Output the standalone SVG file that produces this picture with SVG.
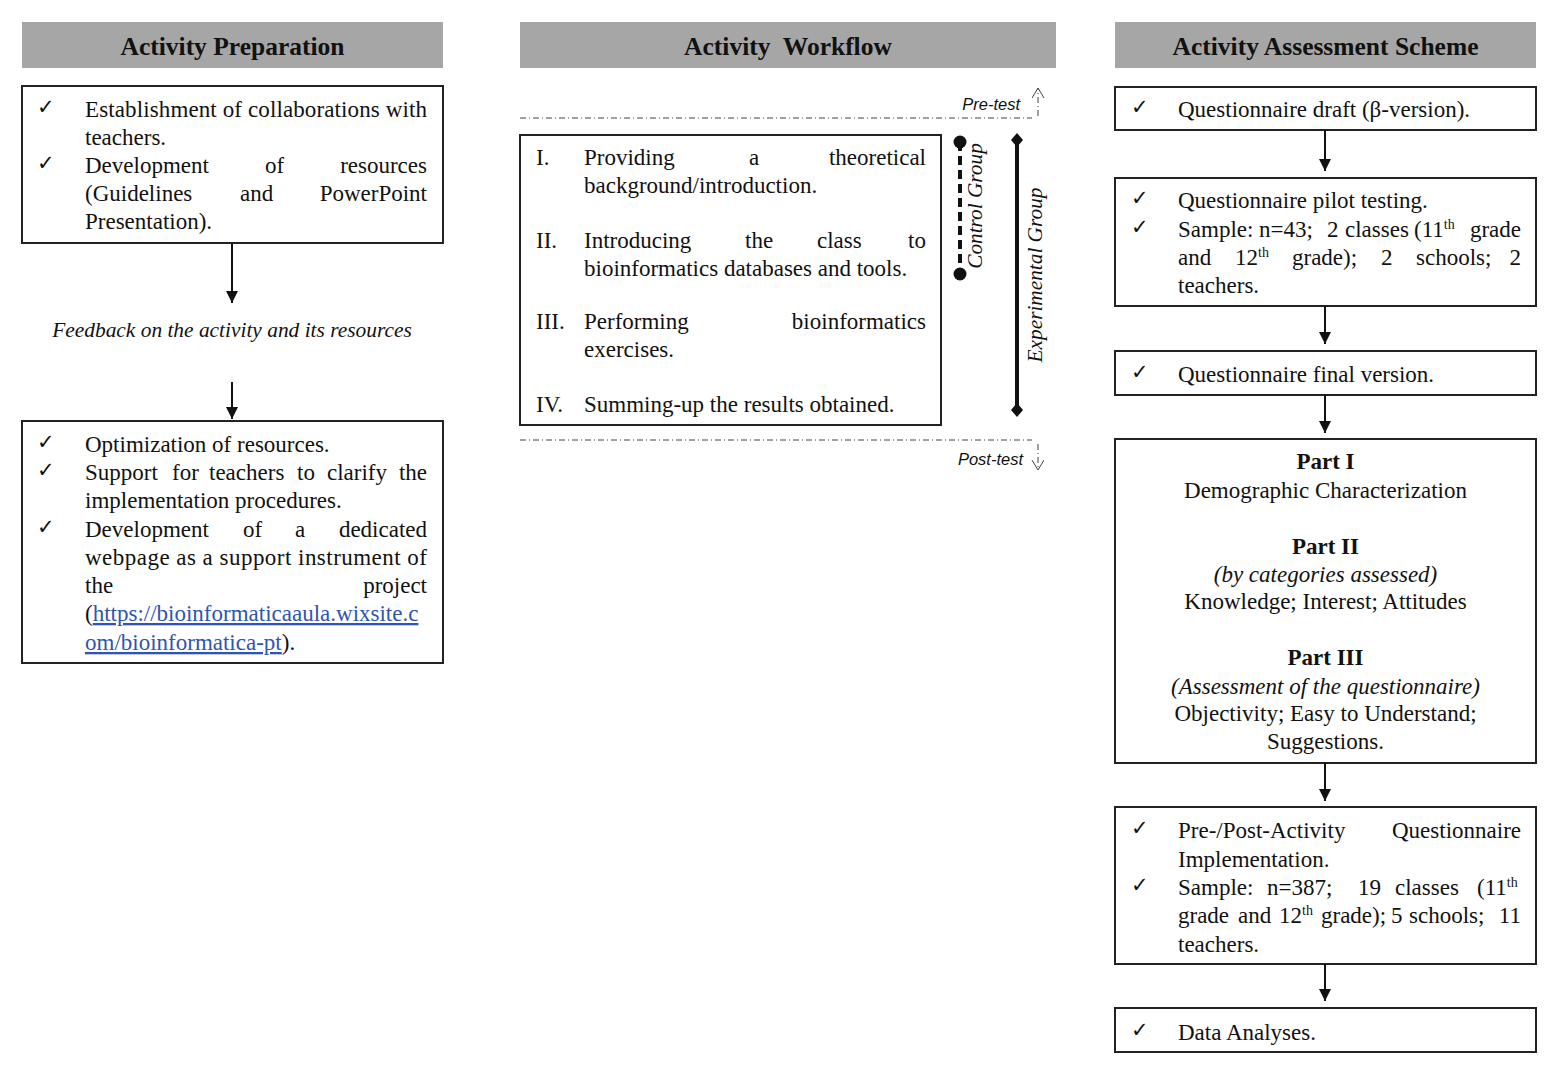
<svg xmlns="http://www.w3.org/2000/svg" width="1559" height="1075" viewBox="0 0 1559 1075">
<style>
.hdr{fill:#a6a6a6}
.ht{font-family:"Liberation Serif",serif;font-weight:bold;font-size:25.5px;text-anchor:middle;fill:#111}
.box{fill:#fff;stroke:#222;stroke-width:2}
.t{font-family:"Liberation Serif",serif;font-size:23px;fill:#111}
.c{text-anchor:middle}
.b{font-weight:bold}
.i{font-style:italic}
.e{text-anchor:end}
.ck{font-family:"DejaVu Sans",sans-serif;font-size:21px;fill:#111}
.s{font-family:"Liberation Sans",sans-serif;font-style:italic;font-size:16.5px;fill:#111}
.conn{stroke:#111;stroke-width:2;fill:none}
.dd{stroke:#444;stroke-width:1;stroke-dasharray:6 3 1 3;fill:none}
.link{fill:#2f55b0;text-decoration:underline}
.sup{font-size:14px}
.fb{font-size:21.4px}
.grp{font-size:21.3px}
</style>
<defs>
<marker id="ah" markerWidth="14" markerHeight="14" refX="12" refY="6" orient="auto" markerUnits="userSpaceOnUse">
<path d="M0,0 L12,6 L0,12 Z" fill="#111"/>
</marker>
<marker id="oh" markerWidth="14" markerHeight="14" refX="10" refY="6" orient="auto" markerUnits="userSpaceOnUse">
<path d="M0,0 L10,6 L0,12" fill="none" stroke="#444" stroke-width="1"/>
</marker>
</defs>
<rect width="1559" height="1075" fill="#fff"/>

<g id="hdr-prep"><rect class="hdr" x="22" y="22" width="421" height="46"/><text class="ht" x="232.5" y="55">Activity Preparation</text></g>
<g id="hdr-work"><rect class="hdr" x="520" y="22" width="536" height="46"/><text class="ht" x="788" y="55" xml:space="preserve">Activity  Workflow</text></g>
<g id="hdr-assess"><rect class="hdr" x="1115" y="22" width="421" height="46"/><text class="ht" x="1325.5" y="55">Activity Assessment Scheme</text></g>

<g id="prep1">
<rect class="box" x="22" y="86" width="421" height="157"/>
<text class="ck" x="37" y="114">✓</text>
<text class="t" x="85" y="117" textLength="342" lengthAdjust="spacing">Establishment of collaborations with</text>
<text class="t" x="85" y="145">teachers.</text>
<text class="ck" x="37" y="170">✓</text>
<text class="t" y="173"><tspan x="85">Development</tspan><tspan x="265">of</tspan><tspan x="427" text-anchor="end">resources</tspan></text>
<text class="t" y="201"><tspan x="85">(Guidelines</tspan><tspan x="240">and</tspan><tspan x="427" text-anchor="end">PowerPoint</tspan></text>
<text class="t" x="85" y="229">Presentation).</text>
</g>

<g id="feedback"><text class="t i c fb" x="232" y="337">Feedback on the activity and its resources</text></g>

<g id="prep2">
<rect class="box" x="22" y="421" width="421" height="242"/>
<text class="ck" x="37" y="449">✓</text>
<text class="t" x="85" y="452">Optimization of resources.</text>
<text class="ck" x="37" y="477">✓</text>
<text class="t" y="480"><tspan x="85">Support</tspan><tspan x="172">for</tspan><tspan x="209">teachers</tspan><tspan x="297">to</tspan><tspan x="327">clarify</tspan><tspan x="427" text-anchor="end">the</tspan></text>
<text class="t" x="85" y="508">implementation procedures.</text>
<text class="ck" x="37" y="534">✓</text>
<text class="t" y="537"><tspan x="85">Development</tspan><tspan x="243">of</tspan><tspan x="295">a</tspan><tspan x="427" text-anchor="end">dedicated</tspan></text>
<text class="t" x="85" y="565" textLength="342" lengthAdjust="spacing">webpage as a support instrument of</text>
<text class="t" y="593"><tspan x="85">the</tspan><tspan x="427" text-anchor="end">project</tspan></text>
<text class="t" x="85" y="621">(<tspan class="link">https://bioinformaticaaula.wixsite.c</tspan></text>
<text class="t" x="85" y="650"><tspan class="link">om/bioinformatica-pt</tspan>).</text>
</g>

<g id="pretest">
<line class="dd" x1="520" y1="118" x2="1032" y2="118"/>
<text class="s e" x="1020" y="110">Pre-test</text>
<line class="dd" x1="1038" y1="116" x2="1038" y2="88" marker-end="url(#oh)"/>
</g>

<g id="workflow">
<rect class="box" x="520" y="135" width="421" height="290"/>
<text class="t" x="536" y="165">I.</text>
<text class="t" y="165"><tspan x="584">Providing</tspan><tspan x="749">a</tspan><tspan x="926" text-anchor="end">theoretical</tspan></text>
<text class="t" x="584" y="193">background/introduction.</text>
<text class="t" x="536" y="248">II.</text>
<text class="t" y="248"><tspan x="584">Introducing</tspan><tspan x="745">the</tspan><tspan x="817">class</tspan><tspan x="926" text-anchor="end">to</tspan></text>
<text class="t" x="584" y="276">bioinformatics databases and tools.</text>
<text class="t" x="536" y="329">III.</text>
<text class="t" y="329"><tspan x="584">Performing</tspan><tspan x="926" text-anchor="end">bioinformatics</tspan></text>
<text class="t" x="584" y="357">exercises.</text>
<text class="t" x="536" y="412">IV.</text>
<text class="t" x="584" y="412">Summing-up the results obtained.</text>
</g>

<g id="control-group">
<line x1="960" y1="142" x2="960" y2="274" stroke="#111" stroke-width="4" stroke-dasharray="9 5"/>
<circle cx="960" cy="142" r="6.5" fill="#111"/>
<circle cx="960" cy="274" r="6.5" fill="#111"/>
<text class="t i c grp" transform="translate(982,206) rotate(-90)">Control Group</text>
</g>

<g id="experimental-group">
<line x1="1017" y1="140" x2="1017" y2="410" stroke="#111" stroke-width="4"/>
<path d="M1017,133 L1023,140 L1017,147 L1011,140 Z" fill="#111"/>
<path d="M1017,403 L1023,410 L1017,417 L1011,410 Z" fill="#111"/>
<text class="t i c grp" transform="translate(1042,275) rotate(-90)">Experimental Group</text>
</g>

<g id="posttest">
<line class="dd" x1="520" y1="440" x2="1032" y2="440"/>
<text class="s e" x="1023" y="465">Post-test</text>
<line class="dd" x1="1038" y1="444" x2="1038" y2="470" marker-end="url(#oh)"/>
</g>

<g id="q-draft">
<rect class="box" x="1115" y="87" width="421" height="43"/>
<text class="ck" x="1131" y="114">✓</text>
<text class="t" x="1178" y="117">Questionnaire draft (β-version).</text>
</g>

<g id="q-pilot">
<rect class="box" x="1115" y="178" width="421" height="128"/>
<text class="ck" x="1131" y="205">✓</text>
<text class="t" x="1178" y="208">Questionnaire pilot testing.</text>
<text class="ck" x="1131" y="234">✓</text>
<text class="t" y="237"><tspan x="1178">Sample:</tspan><tspan x="1259">n=43;</tspan><tspan x="1327">2</tspan><tspan x="1345">classes</tspan><tspan x="1414">(11</tspan><tspan class="sup" dy="-8">th</tspan><tspan x="1521" dy="8" text-anchor="end">grade</tspan></text>
<text class="t" y="265"><tspan x="1178">and</tspan><tspan x="1235">12</tspan><tspan class="sup" dy="-8">th</tspan><tspan x="1292" dy="8">grade);</tspan><tspan x="1381">2</tspan><tspan x="1416">schools;</tspan><tspan x="1521" text-anchor="end">2</tspan></text>
<text class="t" x="1178" y="293">teachers.</text>
</g>

<g id="q-final">
<rect class="box" x="1115" y="351" width="421" height="44"/>
<text class="ck" x="1131" y="379">✓</text>
<text class="t" x="1178" y="382">Questionnaire final version.</text>
</g>

<g id="q-parts">
<rect class="box" x="1115" y="439" width="421" height="324"/>
<text class="t c b" x="1325.5" y="469">Part I</text>
<text class="t c" x="1325.5" y="498">Demographic Characterization</text>
<text class="t c b" x="1325.5" y="554">Part II</text>
<text class="t c i" x="1325.5" y="582">(by categories assessed)</text>
<text class="t c" x="1325.5" y="609">Knowledge; Interest; Attitudes</text>
<text class="t c b" x="1325.5" y="665">Part III</text>
<text class="t c i" x="1325.5" y="694">(Assessment of the questionnaire)</text>
<text class="t c" x="1325.5" y="721">Objectivity; Easy to Understand;</text>
<text class="t c" x="1325.5" y="749">Suggestions.</text>
</g>

<g id="q-impl">
<rect class="box" x="1115" y="807" width="421" height="157"/>
<text class="ck" x="1131" y="835">✓</text>
<text class="t" y="838"><tspan x="1178">Pre-/Post-Activity</tspan><tspan x="1521" text-anchor="end">Questionnaire</tspan></text>
<text class="t" x="1178" y="867">Implementation.</text>
<text class="ck" x="1131" y="892">✓</text>
<text class="t" y="895"><tspan x="1178">Sample:</tspan><tspan x="1267">n=387;</tspan><tspan x="1358">19</tspan><tspan x="1395">classes</tspan><tspan x="1477">(11</tspan><tspan class="sup" dy="-8">th</tspan></text>
<text class="t" y="923"><tspan x="1178">grade</tspan><tspan x="1238">and</tspan><tspan x="1279">12</tspan><tspan class="sup" dy="-8">th</tspan><tspan x="1321" dy="8">grade);</tspan><tspan x="1391">5</tspan><tspan x="1409">schools;</tspan><tspan x="1521" text-anchor="end">11</tspan></text>
<text class="t" x="1178" y="952">teachers.</text>
</g>

<g id="q-data">
<rect class="box" x="1115" y="1008" width="421" height="44"/>
<text class="ck" x="1131" y="1037">✓</text>
<text class="t" x="1178" y="1040">Data Analyses.</text>
</g>

<g id="connectors">
<line class="conn" x1="232" y1="243" x2="232" y2="303" marker-end="url(#ah)"/>
<line class="conn" x1="232" y1="382" x2="232" y2="419" marker-end="url(#ah)"/>
<line class="conn" x1="1325" y1="130" x2="1325" y2="171" marker-end="url(#ah)"/>
<line class="conn" x1="1325" y1="306" x2="1325" y2="344" marker-end="url(#ah)"/>
<line class="conn" x1="1325" y1="395" x2="1325" y2="433" marker-end="url(#ah)"/>
<line class="conn" x1="1325" y1="763" x2="1325" y2="801" marker-end="url(#ah)"/>
<line class="conn" x1="1325" y1="964" x2="1325" y2="1001" marker-end="url(#ah)"/>
</g>
</svg>
